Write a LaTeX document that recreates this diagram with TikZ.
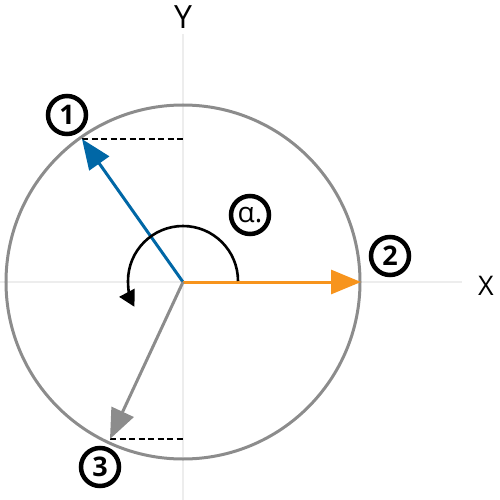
\documentclass[tikz,border=0pt]{standalone}
\usepackage{fontspec}
\setmainfont{Open Sans}
\usetikzlibrary{arrows.meta}
\definecolor{cblue}{HTML}{0067A6}
\definecolor{corange}{HTML}{F7941D}
\definecolor{cgray}{HTML}{8C8C8C}
\definecolor{caxis}{HTML}{EDEDED}
\tikzset{
  badge/.style={circle,draw=black,line width=4.5pt,minimum size=38pt,inner sep=0pt,font=\fontsize{27}{27}\selectfont\bfseries},
  vec/.style={line width=3pt,-{Triangle[length=30pt,width=24pt]}},
  axis/.style={draw=caxis,line width=1.2pt},
  guide/.style={draw=black,line width=1.6pt,dash pattern=on 6pt off 3.5pt},
}
\begin{document}
\begin{tikzpicture}[x=1pt,y=-1pt]
\useasboundingbox (0,0) rectangle (500,500);
\coordinate (O) at (183,282);
\coordinate (yt) at (183,34);
\coordinate (yb) at (183,500);
\coordinate (xl) at (0,282);
\coordinate (xr) at (462,282);
\draw[axis] (yt) -- (yb);
\draw[axis] (xl) -- (xr);
\node[font=\fontsize{32}{32}\selectfont] (Y) at (183,17) {Y};
\node[font=\fontsize{27}{27}\selectfont] (X) at (486,286) {X};
\draw[cgray,line width=3pt] (O) circle[radius=177];
\coordinate (P1) at (82,139);
\coordinate (P2) at (361,282);
\coordinate (P3) at (110,439);
\coordinate (D1) at (183,139);
\coordinate (D3) at (183,439);
\draw[guide] (P1) -- (D1);
\draw[guide] (P3) -- (D3);
\draw[vec,cblue] (O) -- (P1);
\draw[vec,corange] (O) -- (P2);
\draw[vec,cgray] (O) -- (P3);
\coordinate (A0) at (238,281);
\draw[line width=2.6pt,-{Triangle[length=16pt,width=17pt]}] (A0) arc[start angle=0,end angle=-208,radius=55];
\node[badge] (n1) at (67,115) {1};
\node[badge] (n2) at (390,256) {2};
\node[badge] (n3) at (100,467) {3};
\node[badge,font=\fontsize{28}{28}\selectfont] (na) at (250,215) {α.};
\end{tikzpicture}
\end{document}
